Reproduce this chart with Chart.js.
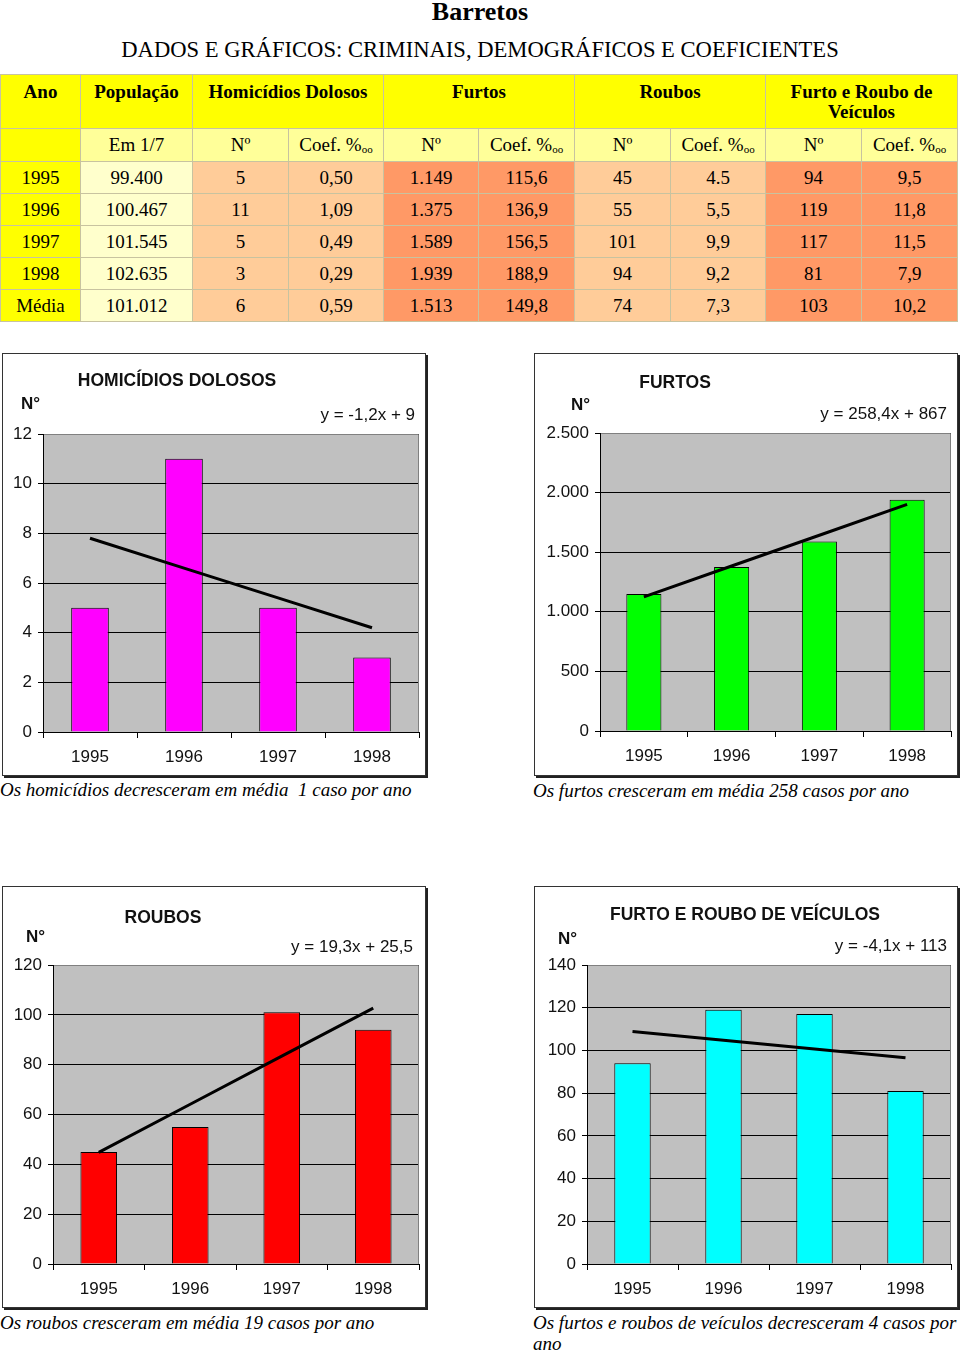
<!DOCTYPE html>
<html lang="pt-BR">
<head>
<meta charset="utf-8">
<title>Barretos</title>
<script src="https://cdn.jsdelivr.net/npm/chart.js@4.4.1/dist/chart.umd.min.js"></script>
<style>
    html, body { margin: 0; padding: 0; background: #fff; }
    body {
        width: 960px; height: 1352px; position: relative; overflow: hidden;
        font-family: "Liberation Serif", "Times New Roman", serif; color: #000;
    }
    h1 {
        position: absolute; left: 0; top: -3px; width: 960px; margin: 0;
        text-align: center; font-size: 26px; line-height: 30px; font-weight: bold;
    }
    h2 {
        position: absolute; left: 0; top: 37px; width: 960px; margin: 0;
        text-align: center; font-size: 22.6px; line-height: 26px; font-weight: normal;
    }
    table {
        position: absolute; left: 0; top: 74px; width: 957px;
        border-collapse: collapse; table-layout: fixed; font-size: 19px;
    }
    td { border: 1px solid #c8c3a0; text-align: center; padding: 0; line-height: 20px; }
    tr.head td { height: 54px; vertical-align: top; padding-top: 7px; box-sizing: border-box; font-weight: bold; background: #ffff00; }
    tr.sub td { height: 32px; background: #ffff99; }
    tr.row td { height: 31px; }
    td sub { font-size: 11px; vertical-align: -2px; line-height: 0; }
    .frame {
        position: absolute; box-sizing: border-box; border: 1px solid #333;
        box-shadow: 2px 2px 0 #222; background: #fff;
    }
    .wrap { position: absolute; }
    .ctitle, .nlabel, .eq { position: absolute; white-space: nowrap; font-family: "Liberation Sans", Arial, sans-serif; color: #111; }
    .ctitle { font-size: 17.5px; font-weight: bold; transform: translate(-50%, -50%); }
    .nlabel { font-size: 17px; font-weight: bold; transform: translateY(-50%); }
    .eq { font-size: 17px; transform: translate(-100%, -50%); }
    .caption {
        position: absolute; width: 430px; white-space: pre-wrap;
        font-style: italic; font-size: 19px; line-height: 21px;
    }
</style>
</head>
<body>
<h1>Barretos</h1>
<h2>DADOS E GRÁFICOS: CRIMINAIS, DEMOGRÁFICOS E COEFICIENTES</h2>
<table id="dados"></table>
<div id="charts"></div>

<script>
// valores da tabela (última posição = média)
const rowLabels = ['1995', '1996', '1997', '1998', 'Média'];
const populacao = [99400, 100467, 101545, 102635, 101012];
const homicidios = [5, 11, 5, 3, 6];
const homicidiosCoef = ['0,50', '1,09', '0,49', '0,29', '0,59'];
const furtos = [1149, 1375, 1589, 1939, 1513];
const furtosCoef = ['115,6', '136,9', '156,5', '188,9', '149,8'];
const roubos = [45, 55, 101, 94, 74];
const roubosCoef = ['4.5', '5,5', '9,9', '9,2', '7,3'];
const veiculos = [94, 119, 117, 81, 103];
const veiculosCoef = ['9,5', '11,8', '11,5', '7,9', '10,2'];

// linhas de tendência
const homicidiosTrend = [7.8, 6.6, 5.4, 4.2];
const furtosTrend = [1125, 1384, 1642, 1901];
const roubosTrend = [44.8, 64.1, 83.4, 102.7];
const veiculosTrend = [108.9, 104.8, 100.7, 96.6];

const years = rowLabels.slice(0, 4);

function fmt(v) {
    return String(v).replace(/\B(?=(\d{3})+(?!\d))/g, '.');
}

// ---- tabela ----
const table = document.getElementById('dados');
const widths = [80, 112, 96, 95, 95, 96, 96, 95, 96, 96];
const colgroup = document.createElement('colgroup');
widths.forEach((w) => {
    const col = document.createElement('col');
    col.style.width = w + 'px';
    colgroup.appendChild(col);
});
table.appendChild(colgroup);

const coefHead = 'Coef. %<sub>oo</sub>';
table.insertAdjacentHTML('beforeend',
    '<tr class="head"><td>Ano</td><td>População</td><td colspan="2">Homicídios Dolosos</td>' +
    '<td colspan="2">Furtos</td><td colspan="2">Roubos</td><td colspan="2">Furto e Roubo de<br>Veículos</td></tr>' +
    '<tr class="sub"><td style="background:#ffff00"></td><td>Em 1/7</td><td>Nº</td><td>' + coefHead + '</td>' +
    '<td>Nº</td><td>' + coefHead + '</td><td>Nº</td><td>' + coefHead + '</td><td>Nº</td><td>' + coefHead + '</td></tr>');

const columns = [
    [rowLabels, '#ffff00'],
    [populacao.map(fmt), '#ffffcc'],
    [homicidios.map(fmt), '#ffcc99'],
    [homicidiosCoef, '#ffcc99'],
    [furtos.map(fmt), '#ff9966'],
    [furtosCoef, '#ff9966'],
    [roubos.map(fmt), '#ffcc99'],
    [roubosCoef, '#ffcc99'],
    [veiculos.map(fmt), '#ff9966'],
    [veiculosCoef, '#ff9966'],
];
rowLabels.forEach((_, i) => {
    const tr = document.createElement('tr');
    tr.className = 'row';
    columns.forEach(([values, bg]) => {
        const td = document.createElement('td');
        td.textContent = values[i];
        td.style.background = bg;
        tr.appendChild(td);
    });
    table.appendChild(tr);
});

// ---- gráficos ----
const charts = [
    {
        title: 'HOMICÍDIOS DOLOSOS', equation: 'y = -1,2x + 9',
        values: homicidios.slice(0, 4), trend: homicidiosTrend, color: '#ff00ff', yMax: 12, yStep: 2,
        frame: [2, 353, 424, 423], plot: [43, 434, 419, 732],
        titleAt: [177, 380], nAt: [21, 404], eqAt: [415, 415],
        caption: 'Os homicídios decresceram em média  1 caso por ano', captionAt: [0, 779],
    },
    {
        title: 'FURTOS', equation: 'y = 258,4x + 867',
        values: furtos.slice(0, 4), trend: furtosTrend, color: '#00ff00', yMax: 2500, yStep: 500,
        frame: [534, 353, 424, 423], plot: [600, 433, 951, 731],
        titleAt: [675, 382], nAt: [571, 405], eqAt: [947, 414],
        caption: 'Os furtos cresceram em média 258 casos por ano', captionAt: [533, 780],
    },
    {
        title: 'ROUBOS', equation: 'y = 19,3x + 25,5',
        values: roubos.slice(0, 4), trend: roubosTrend, color: '#ff0000', yMax: 120, yStep: 20,
        frame: [2, 886, 424, 422], plot: [53, 965, 419, 1264],
        titleAt: [163, 917], nAt: [26, 937], eqAt: [413, 947],
        caption: 'Os roubos cresceram em média 19 casos por ano', captionAt: [0, 1312],
    },
    {
        title: 'FURTO E ROUBO DE VEÍCULOS', equation: 'y = -4,1x + 113',
        values: veiculos.slice(0, 4), trend: veiculosTrend, color: '#00ffff', yMax: 140, yStep: 20,
        frame: [534, 886, 424, 422], plot: [587, 965, 951, 1264],
        titleAt: [745, 914], nAt: [558, 939], eqAt: [947, 946],
        caption: 'Os furtos e roubos de veículos decresceram 4 casos por ano', captionAt: [533, 1312],
    },
];

const plotFrame = {
    id: 'plotFrame',
    beforeDraw(chart) {
        const { ctx, chartArea: a } = chart;
        ctx.save();
        ctx.fillStyle = '#c0c0c0';
        ctx.fillRect(a.left, a.top, a.right - a.left, a.bottom - a.top);
        ctx.restore();
    },
    beforeDatasetsDraw(chart) {
        const { ctx, chartArea: a } = chart;
        ctx.save();
        ctx.strokeStyle = '#808080';
        ctx.lineWidth = 1;
        ctx.beginPath();
        ctx.moveTo(a.left + 1, a.top + 0.5);
        ctx.lineTo(a.right - 0.5, a.top + 0.5);
        ctx.lineTo(a.right - 0.5, a.bottom);
        ctx.stroke();
        ctx.restore();
    },
};

Chart.defaults.font.family = '"Liberation Sans", Arial, sans-serif';
Chart.defaults.font.size = 17;
Chart.defaults.color = '#111';

const host = document.getElementById('charts');

charts.forEach((c) => {
    const [fx, fy, fw, fh] = c.frame;
    const [pl, pt, pr, pb] = c.plot;

    const frame = document.createElement('div');
    frame.className = 'frame';
    Object.assign(frame.style, { left: fx + 'px', top: fy + 'px', width: fw + 'px', height: fh + 'px' });
    host.appendChild(frame);

    // área do canvas = interior da moldura
    const wx = fx + 1, wy = fy + 1, ww = fw - 2, wh = fh - 2;
    const wrap = document.createElement('div');
    wrap.className = 'wrap';
    Object.assign(wrap.style, { left: wx + 'px', top: wy + 'px', width: ww + 'px', height: wh + 'px' });
    const canvas = document.createElement('canvas');
    wrap.appendChild(canvas);
    host.appendChild(wrap);

    const label = (cls, text, [x, y]) => {
        const el = document.createElement('div');
        el.className = cls;
        el.textContent = text;
        el.style.left = x + 'px';
        el.style.top = y + 'px';
        host.appendChild(el);
    };
    label('ctitle', c.title, c.titleAt);
    label('nlabel', 'N°', c.nAt);
    label('eq', c.equation, c.eqAt);
    label('caption', c.caption, c.captionAt);

    const yWidth = pl - wx;
    const xHeight = wy + wh - pb;

    new Chart(canvas, {
        type: 'bar',
        data: {
            labels: years,
            datasets: [
                {
                    type: 'line',
                    data: c.trend,
                    borderColor: '#000',
                    borderWidth: 3,
                    pointRadius: 0,
                    fill: false,
                    tension: 0,
                    order: 0,
                },
                {
                    data: c.values,
                    backgroundColor: c.color,
                    borderColor: '#000',
                    borderWidth: 1,
                    barPercentage: 0.4,
                    categoryPercentage: 1,
                    order: 1,
                },
            ],
        },
        options: {
            responsive: true,
            maintainAspectRatio: false,
            animation: false,
            layout: { padding: { top: pt - wy, right: wx + ww - pr, left: 0, bottom: 0 } },
            plugins: { legend: { display: false }, tooltip: { enabled: false } },
            scales: {
                x: {
                    offset: true,
                    grid: { offset: true, drawOnChartArea: false, drawTicks: true, tickLength: 6, color: '#000' },
                    border: { color: '#000', width: 1 },
                    ticks: { padding: 9, maxRotation: 0 },
                    afterFit: (s) => { s.height = xHeight; },
                },
                y: {
                    min: 0,
                    max: c.yMax,
                    ticks: { stepSize: c.yStep, padding: 6, callback: (v) => fmt(v) },
                    grid: { color: '#000', tickColor: '#000', tickLength: 5 },
                    border: { color: '#000', width: 1 },
                    afterFit: (s) => { s.width = yWidth; },
                },
            },
        },
        plugins: [plotFrame],
    });
});
</script>
</body>
</html>
